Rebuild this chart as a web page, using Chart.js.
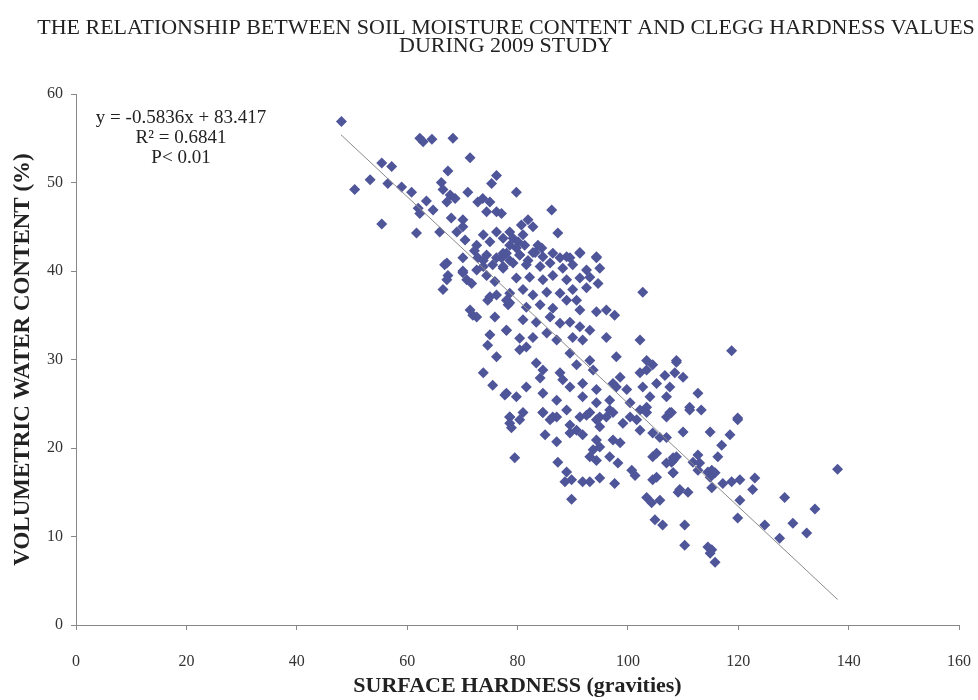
<!DOCTYPE html>
<html>
<head>
<meta charset="utf-8">
<script src="https://cdn.jsdelivr.net/npm/chart.js@4"></script>
<style>
  body { margin: 0; background: #fff; }
  #wrap { width: 978px; height: 700px; }
</style>
</head>
<body>
<div id="wrap"><canvas id="myChart" width="978" height="700"></canvas></div>
<script>
// surface hardness (gravities) and volumetric water content (%)
const hardness = [
  48.1, 62.3, 62.9, 64.5, 68.3, 71.4, 55.4, 57.2, 53.3, 50.5, 56.5, 59.0, 60.8, 67.4, 76.2, 75.3,
  66.2, 66.5, 71.0, 63.5, 67.8, 68.7, 67.2, 62.0, 62.3, 64.7, 72.8, 73.7, 75.0, 68.0, 70.1, 70.1,
  74.4, 76.2, 77.1, 55.4, 61.7, 65.9, 69.0, 70.5, 72.6, 73.8, 75.0, 76.2, 77.4, 67.2, 70.1, 72.8,
  74.4,
  79.8, 86.2, 81.9, 80.7, 82.8, 87.3, 78.6, 79.2, 80.1, 81.0, 81.3, 79.8, 78.6, 83.7, 83.2, 84.4,
  91.3, 89.5, 87.7, 94.3, 77.1, 78.6, 80.4, 81.9,
  66.8, 67.4, 67.2, 66.5, 70.1, 72.2, 70.1, 70.8, 71.7, 72.6, 73.8, 74.4, 75.5, 77.4, 76.2, 77.4,
  73.8, 75.9, 75.0, 76.2, 74.6, 78.0, 78.3, 71.4, 71.9, 72.6, 75.9, 78.0, 75.0, 74.6, 76.2, 73.8,
  75.5, 77.7, 78.6,
  78.0, 80.4, 82.8, 84.6, 86.4, 88.9, 91.3, 94.3,
  77.4, 79.2, 81.6, 84.1, 85.9, 88.2, 90.0, 92.5, 94.9,
  79.8, 82.2, 84.6, 86.4, 88.9, 91.3, 93.1, 94.6,
  78.6, 81.0, 82.8, 85.3, 87.7, 90.0, 92.5, 88.9, 102.7,
  78.6, 81.6, 84.1, 86.4, 90.7, 91.3, 94.3, 96.1, 97.6,
  78.0, 81.0, 83.4, 85.9, 87.7, 89.5, 91.3, 93.1,
  80.4, 82.8, 85.3, 87.1, 90.0, 91.8, 96.1, 102.2,
  80.4, 81.6, 89.5, 97.9, 103.4, 104.5, 108.8,
  83.4, 84.6, 87.7, 90.7, 93.1, 93.7, 98.6, 97.3, 102.2, 103.4, 106.7, 108.5,
  84.1, 88.2, 89.5, 91.8, 94.3, 97.9, 99.8, 102.7, 104.0, 105.2, 107.6,
  78.0, 79.8, 81.6, 84.6, 87.1, 91.8, 94.3, 96.7, 100.4, 103.4, 107.0,
  78.6, 81.0, 84.6, 86.4, 88.9, 91.3, 93.1, 94.9, 96.7, 100.4, 102.2, 107.6,
  118.8, 108.8, 110.0, 112.7, 111.2, 113.3, 107.9, 119.9,
  78.6, 80.4, 78.9, 79.5, 84.6, 85.9, 87.1, 85.0, 87.1, 89.5, 90.7, 91.8, 89.5,
  92.5, 94.3, 94.9, 96.1, 97.3, 94.3, 93.7, 94.9, 93.1, 94.3, 97.3, 98.6, 96.7, 98.2,
  99.1, 101.6, 102.2, 103.4, 104.5, 105.8, 107.0, 107.0, 87.3, 88.9, 89.8, 88.6,
  91.8, 93.1, 94.9, 97.6, 89.8, 100.7, 101.3, 104.5, 105.2, 107.0, 108.2, 108.2,
  104.5, 105.2, 103.4, 104.3, 105.8, 104.9, 106.3, 109.1,
  111.2, 119.9, 110.0, 114.9, 118.5, 117.0, 116.3, 108.2, 108.8, 107.9, 111.8, 112.7, 113.0, 112.7,
  108.2, 114.5, 115.2, 115.8, 114.9, 117.2, 118.8, 120.3, 123.0, 122.6, 109.4, 110.9, 115.2,
  120.3, 128.4, 133.9, 138.0, 119.9, 124.8, 129.9, 132.4, 127.5, 110.3, 110.3, 114.5, 115.2,
  114.9, 115.8
];
const moisture = [
  56.9, 55.0, 54.6, 54.9, 55.0, 52.8, 52.2, 51.8, 50.3, 49.2, 49.9, 49.5, 48.9, 51.3, 50.8, 49.9,
  50.0, 49.2, 48.9, 47.9, 48.6, 48.2, 47.8, 47.1, 46.5, 46.9, 47.8, 48.2, 47.8, 46.0, 45.8, 45.0,
  46.7, 46.7, 46.5, 45.3, 44.3, 44.4, 44.4, 43.5, 42.9, 44.1, 43.3, 44.4, 43.7, 40.9, 41.5, 41.5,
  41.8,
  48.9, 46.9, 45.8, 45.2, 45.0, 44.3, 44.4, 43.7, 43.3, 44.1, 42.9, 42.6, 42.9, 42.9, 42.1, 42.6,
  42.1, 41.5, 41.5, 41.5, 41.5, 41.2, 41.8, 41.2,
  40.7, 39.5, 39.0, 37.9, 40.0, 42.3, 39.8, 39.0, 38.6, 40.1, 40.5, 39.5, 40.7, 40.3, 41.5, 42.0,
  41.2, 38.8, 37.1, 37.3, 36.7, 36.7, 36.2, 35.6, 35.0, 34.8, 34.8, 33.3, 32.8, 31.6, 30.3, 28.5,
  27.1, 26.0, 23.5,
  42.0, 41.8, 42.1, 41.6, 42.0, 41.6, 42.0, 41.6,
  40.5, 40.9, 40.7, 40.5, 40.9, 40.3, 40.7, 40.1, 40.3,
  39.2, 39.3, 39.0, 39.5, 39.0, 39.2, 39.3, 38.6,
  37.5, 37.9, 37.3, 37.6, 37.5, 37.9, 38.1, 36.7, 37.6,
  36.4, 35.9, 36.2, 35.8, 36.7, 35.6, 35.4, 35.6, 35.0,
  33.3, 34.5, 34.2, 34.8, 34.1, 34.2, 33.7, 33.3,
  32.4, 32.5, 33.0, 32.2, 32.5, 32.2, 32.5, 32.2,
  31.1, 31.4, 30.7, 30.3, 29.9, 29.4, 29.9,
  29.6, 28.8, 28.5, 29.4, 29.9, 28.8, 28.0, 27.3, 28.5, 28.8, 28.2, 28.5,
  27.9, 27.7, 26.9, 27.3, 26.6, 26.9, 26.6, 26.9, 25.8, 27.3, 26.9,
  26.2, 25.8, 26.9, 26.2, 25.4, 25.8, 25.1, 25.4, 25.1, 24.6, 25.8,
  23.5, 24.0, 24.0, 23.5, 24.3, 23.5, 24.0, 23.5, 24.3, 23.5, 24.3, 24.0,
  31.0, 29.7, 28.0, 26.2, 24.6, 24.3, 24.0, 23.4,
  22.8, 23.2, 22.3, 18.9, 24.0, 23.2, 23.5, 21.5, 20.7, 22.6, 22.0, 21.5, 21.7,
  23.7, 23.2, 22.4, 23.5, 24.0, 20.9, 19.8, 20.1, 19.0, 18.6, 20.9, 20.6, 19.0, 18.3,
  22.8, 23.2, 22.0, 24.0, 21.7, 21.2, 21.2, 23.5, 18.4, 17.3, 16.4, 16.2,
  16.2, 16.2, 16.6, 16.0, 14.2, 17.5, 16.9, 19.0, 19.4, 18.3, 18.6, 17.2,
  16.4, 16.7, 14.4, 13.8, 14.1, 11.9, 11.3, 15.0,
  24.3, 23.2, 21.8, 21.8, 21.5, 20.3, 19.0, 18.9, 19.0, 18.4, 18.4, 19.2, 18.3, 17.5,
  17.2, 17.3, 17.5, 17.2, 16.7, 16.0, 16.2, 16.4, 16.6, 15.3, 15.3, 15.0, 15.5,
  14.1, 14.4, 13.1, 17.6, 12.1, 11.3, 11.5, 10.4, 9.8, 11.3, 9.0, 8.8, 8.5,
  8.1, 7.1
];

// linear fit printed on the figure
const slope = -0.5836;
const intercept = 83.417;
const fitRange = [48, 138];
const xTicks = [0, 20, 40, 60, 80, 100, 120, 140, 160];
const yTicks = [0, 10, 20, 30, 40, 50, 60];
const titleLines = [
  "THE RELATIONSHIP BETWEEN SOIL MOISTURE CONTENT AND CLEGG HARDNESS VALUES",
  "DURING 2009 STUDY",
];
const notes = ["y = -0.5836x + 83.417", "R\u00b2 = 0.6841", "P< 0.01"];

const serif = "'Liberation Serif', 'Times New Roman', serif";

const points = hardness.map((h, i) => ({ x: h, y: moisture[i] }));
const fitLine = fitRange.map((x) => ({ x: x, y: slope * x + intercept }));

// title and fit notes are drawn as canvas text
const textPlugin = {
  id: "texts",
  afterDraw(chart) {
    const c = chart.ctx;
    const area = chart.chartArea;
    c.save();
    c.fillStyle = "#222";
    c.textAlign = "center";
    c.textBaseline = "middle";
    c.font = "22px " + serif;
    titleLines.forEach((t, i) => {
      c.fillText(t, 506, 28 + i * 18);
    });
    c.font = "19px " + serif;
    notes.forEach((t, i) => {
      c.fillText(t, area.left + 105, area.top + 24 + i * 20);
    });
    c.restore();
  },
};

const ctx = document.getElementById("myChart");
const chart = new Chart(ctx, {
  type: "scatter",
  data: {
    datasets: [
      {
        label: "fit",
        type: "line",
        data: fitLine,
        borderColor: "#8a8a8a",
        borderWidth: 1,
        pointRadius: 0,
        fill: false,
      },
      {
        label: "data",
        data: points,
        pointStyle: "rectRot",
        pointRadius: 5.5,
        backgroundColor: "#4f5599",
        borderWidth: 0,
      },
    ],
  },
  options: {
    responsive: false,
    animation: false,
    layout: { padding: { left: 8, right: 19, top: 94, bottom: 0 } },
    plugins: {
      legend: { display: false },
      tooltip: { enabled: false },
      title: { display: false },
    },
    scales: {
      x: {
        type: "linear",
        min: 0,
        max: 160,
        afterBuildTicks: (s) => { s.ticks = xTicks.map((v) => ({ value: v })); },
        ticks: { font: { family: serif, size: 16 }, color: "#333", padding: 22 },
        grid: { drawOnChartArea: false, tickLength: 5, color: "#888" },
        border: { color: "#888" },
        title: {
          display: true,
          text: "SURFACE HARDNESS (gravities)",
          font: { family: serif, size: 22, weight: "bold" },
          color: "#222",
          padding: { top: 0, bottom: 0 },
        },
        afterFit: (s) => {
          s.height = 75;
          s.paddingLeft = 0;
          s.paddingRight = 12;
        },
      },
      y: {
        type: "linear",
        min: 0,
        max: 60,
        afterBuildTicks: (s) => { s.ticks = yTicks.map((v) => ({ value: v })); },
        ticks: { font: { family: serif, size: 16 }, color: "#333", padding: 8 },
        grid: { drawOnChartArea: false, tickLength: 5, color: "#888" },
        border: { color: "#888" },
        title: {
          display: true,
          text: "VOLUMETRIC WATER CONTENT (%)",
          font: { family: serif, size: 23, weight: "bold" },
          color: "#222",
          padding: { top: 1, bottom: 0 },
        },
        afterFit: (s) => { s.width = 68; },
      },
    },
  },
  plugins: [textPlugin],
});
</script>
</body>
</html>
